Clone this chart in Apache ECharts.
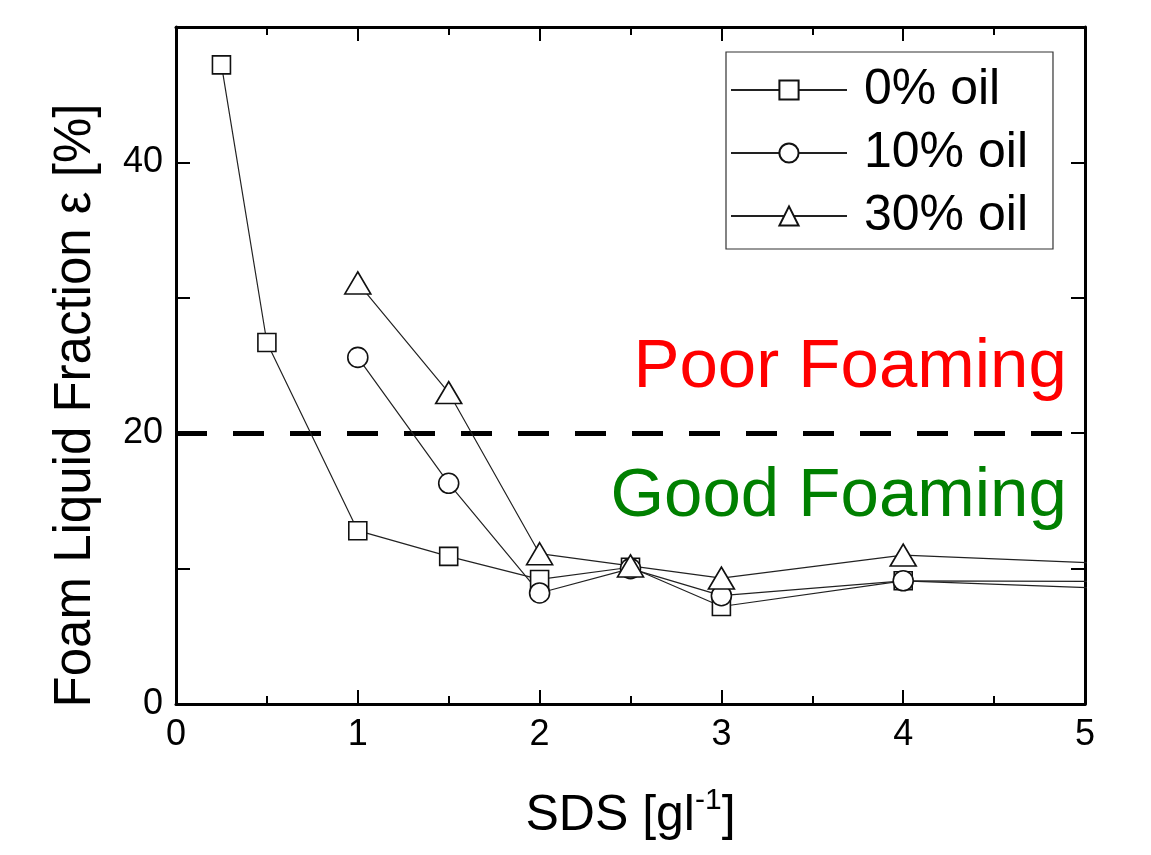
<!DOCTYPE html>
<html>
<head>
<meta charset="utf-8">
<script src="https://cdn.jsdelivr.net/npm/echarts@6/dist/echarts.min.js"></script>
<style>
html,body{margin:0;padding:0;background:#fff;}
#chart{width:1151px;height:855px;}
</style>
</head>
<body>
<div id="chart"></div>
<script>
// ---- data ----
var seriesNames = ['0% oil', '10% oil', '30% oil'];
var sdsOil0 = [0.25, 0.5, 1, 1.5, 2, 2.5, 3, 4, 6];
var fracOil0 = [47.2, 26.7, 12.8, 10.9, 9.2, 10.1, 7.2, 9.1, 8.1];
var sdsOil10 = [1, 1.5, 2, 2.5, 3, 4, 6];
var fracOil10 = [25.6, 16.3, 8.2, 10.0, 8.0, 9.1, 9.0];
var sdsOil30 = [1, 1.5, 2, 2.5, 3, 4, 6];
var fracOil30 = [31.1, 23.0, 11.1, 10.2, 9.3, 11.0, 9.9];
var thresholdValue = 20;
var annotations = ['Poor Foaming', 'Good Foaming'];
var xTitle = 'SDS [gl{sup|-1}]';
var yTitle = 'Foam Liquid Fraction \u03b5 [%]';

function pairs(xs, ys) { return xs.map(function (x, i) { return [x, ys[i]]; }); }

var FONT = '"Liberation Sans", Arial, sans-serif';
var chart = echarts.init(document.getElementById('chart'));

function baseSeries(name, data, symbol, size) {
  return {
    name: name,
    type: 'line',
    data: data,
    symbol: symbol,
    symbolSize: size,
    showAllSymbol: true,
    clip: true,
    lineStyle: { color: '#222', width: 1.2 },
    itemStyle: { color: '#fff', borderColor: '#111', borderWidth: 1.6 },
    emphasis: { disabled: true },
    z: 3
  };
}

var s0 = baseSeries(seriesNames[0], pairs(sdsOil0, fracOil0), 'rect', 18);
s0.markLine = {
  silent: true,
  symbol: 'none',
  label: { show: false },
  lineStyle: { color: '#000', width: 5, type: [31, 26] },
  data: [{ yAxis: thresholdValue }],
  z: 2
};
var s1 = baseSeries(seriesNames[1], pairs(sdsOil10, fracOil10), 'circle', 20);
var s2 = baseSeries(seriesNames[2], pairs(sdsOil30, fracOil30), 'triangle', [26, 22]);

var axisCommon = {
  axisLine: { show: true, onZero: false, lineStyle: { color: '#000', width: 3 } },
  axisTick: { show: true, inside: true, length: 14, lineStyle: { color: '#000', width: 2 } },
  splitLine: { show: false }
};

var option = {
  animation: false,
  backgroundColor: '#fff',
  grid: { left: 176, right: 66, top: 27, bottom: 151, containLabel: false },
  legend: {
    orient: 'vertical',
    left: 726,
    top: 52,
    padding: [13, 25, 8, 4],
    itemGap: 13,
    itemWidth: 116,
    itemHeight: 24,
    borderColor: '#333',
    borderWidth: 1.2,
    borderRadius: 0,
    backgroundColor: '#fff',
    selectedMode: false,
    textStyle: { fontSize: 50, color: '#000', fontFamily: FONT, padding: [0, 0, 0, 12] },
    data: seriesNames
  },
  xAxis: [
    Object.assign({}, axisCommon, {
      type: 'value', position: 'bottom', min: 0, max: 5, interval: 1,
      minorTick: { show: true, splitNumber: 2, length: 8, lineStyle: { color: '#000', width: 2 } },
      axisLabel: { fontSize: 36, color: '#000', fontFamily: FONT, margin: 13 },
      name: xTitle,
      nameLocation: 'middle',
      nameGap: 82,
      nameTextStyle: {
        fontSize: 50, color: '#000', fontFamily: FONT,
        rich: { sup: { fontSize: 30, color: '#000', fontFamily: FONT, verticalAlign: 'top', padding: [0, 0, 30, 0] } }
      }
    }),
    Object.assign({}, axisCommon, {
      type: 'value', position: 'top', min: 0, max: 5, interval: 1,
      minorTick: { show: true, splitNumber: 2, length: 8, lineStyle: { color: '#000', width: 2 } },
      axisLabel: { show: false }
    })
  ],
  yAxis: [
    Object.assign({}, axisCommon, {
      type: 'value', position: 'left', min: 0, max: 50, interval: 10,
      axisLabel: {
        fontSize: 36, color: '#000', fontFamily: FONT, margin: 13,
        formatter: function (v) { return (v % 20 === 0 && v < 50) ? String(v) : ''; }
      },
      name: yTitle,
      nameLocation: 'middle',
      nameGap: 75,
      nameTextStyle: { fontSize: 51, color: '#000', fontFamily: FONT, padding: [0, 80, 0, 0] }
    }),
    Object.assign({}, axisCommon, {
      type: 'value', position: 'right', min: 0, max: 50, interval: 10,
      axisLabel: { show: false }
    })
  ],
  series: [s0, s1, s2]
};
chart.setOption(option);

// annotation texts anchored to data coordinates
var poorPos = chart.convertToPixel({ xAxisIndex: 0, yAxisIndex: 0 }, [4.9, 24.8]);
var goodPos = chart.convertToPixel({ xAxisIndex: 0, yAxisIndex: 0 }, [4.9, 15.3]);
chart.setOption({
  graphic: [
    { type: 'text', x: poorPos[0], y: poorPos[1], z: 10,
      style: { text: annotations[0], fill: '#ff0000', font: '69px ' + FONT, textAlign: 'right', textVerticalAlign: 'middle' } },
    { type: 'text', x: goodPos[0], y: goodPos[1], z: 10,
      style: { text: annotations[1], fill: '#008000', font: '69px ' + FONT, textAlign: 'right', textVerticalAlign: 'middle' } }
  ]
});
</script>
</body>
</html>
